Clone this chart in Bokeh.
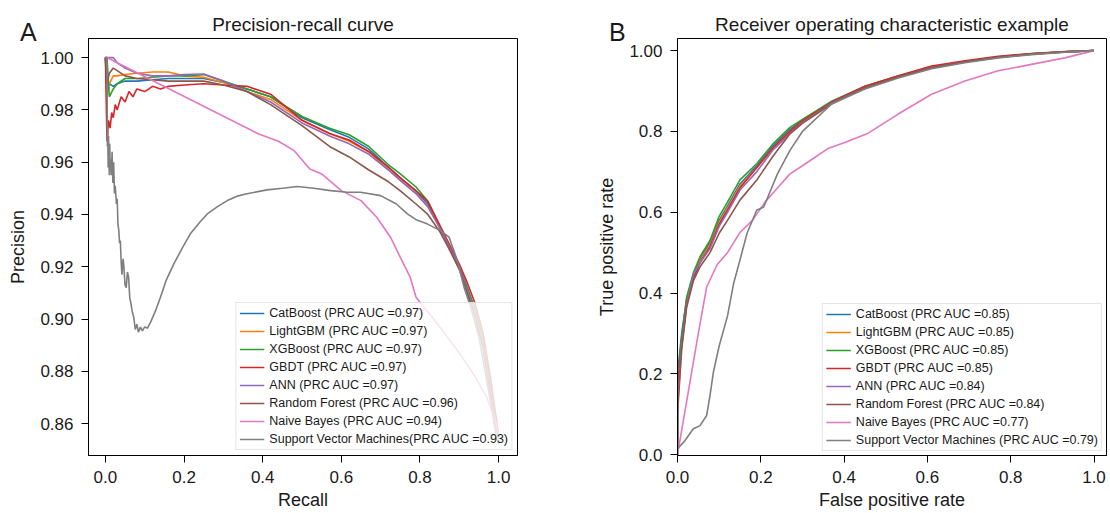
from bokeh.plotting import figure
from bokeh.layouts import row
from bokeh.models import (Range1d, FixedTicker, Legend, LegendItem, Div,
                          NumeralTickFormatter)
from bokeh.embed import file_html
from bokeh.resources import INLINE

FONT = "Liberation Sans"
TXT = "#1a1a1a"

models = ["CatBoost", "LightGBM", "XGBoost", "GBDT", "ANN", "Random Forest",
          "Naive Bayes", "Support Vector Machines"]
colors = ["#1f77b4", "#ff7f0e", "#2ca02c", "#d62728", "#9467bd", "#8c564b",
          "#e377c2", "#7f7f7f"]
pr_auc = ["0.97", "0.97", "0.97", "0.97", "0.97", "0.96", "0.94", "0.93"]
roc_auc = ["0.85", "0.85", "0.85", "0.85", "0.84", "0.84", "0.77", "0.79"]

# ---------------- Precision-recall data ----------------
pr_recall_grid = [0, 0.004, 0.01, 0.02, 0.03, 0.05, 0.08, 0.12, 0.16, 0.2, 0.25, 0.3,
                  0.36, 0.42, 0.5, 0.57, 0.62, 0.67, 0.72, 0.75, 0.79, 0.82, 0.85,
                  0.87, 0.9, 0.92, 0.94, 0.96, 0.98, 0.99, 1.0]
pr_catboost = [1.0, 0.99, 0.99, 0.989, 0.99, 0.991, 0.991, 0.9915, 0.992, 0.992, 0.992,
               0.9905, 0.988, 0.985, 0.977, 0.9725, 0.9695, 0.965, 0.958, 0.954, 0.949,
               0.944, 0.935, 0.929, 0.92, 0.912, 0.903, 0.892, 0.873, 0.862, 0.855]
pr_lightgbm = [1.0, 0.985, 0.99, 0.993, 0.993, 0.9935, 0.994, 0.9945, 0.9945, 0.993,
               0.9925, 0.9905, 0.987, 0.984, 0.976, 0.971, 0.968, 0.964, 0.957, 0.953,
               0.948, 0.943, 0.935, 0.929, 0.919, 0.911, 0.902, 0.891, 0.872, 0.861, 0.855]
pr_xgboost = [1.0, 1.0, 0.985, 0.988, 0.99, 0.992, 0.992, 0.9925, 0.993, 0.993, 0.9935,
              0.991, 0.988, 0.985, 0.9775, 0.973, 0.9705, 0.966, 0.959, 0.9555, 0.9505,
              0.945, 0.9355, 0.929, 0.92, 0.912, 0.904, 0.893, 0.874, 0.863, 0.855]
pr_ann = [1.0, 1.0, 1.0, 1.0, 0.998, 0.996, 0.994, 0.993, 0.993, 0.9935, 0.9937, 0.991,
          0.987, 0.983, 0.975, 0.97, 0.967, 0.963, 0.957, 0.953, 0.948, 0.943, 0.935,
          0.929, 0.92, 0.911, 0.902, 0.89, 0.872, 0.86, 0.854]
pr_rf = [1.0, 0.99, 0.994, 0.996, 0.995, 0.993, 0.992, 0.9915, 0.991, 0.991, 0.991,
         0.9895, 0.987, 0.982, 0.974, 0.966, 0.962, 0.957, 0.9525, 0.949, 0.944, 0.94,
         0.9335, 0.928, 0.919, 0.91, 0.901, 0.889, 0.87, 0.859, 0.852]

# GBDT has a jagged start, so it gets its own recall points
pr_gbdt_recall = [0, 0.004, 0.008, 0.012, 0.016, 0.02, 0.025, 0.03, 0.04, 0.05, 0.06,
                  0.07, 0.08, 0.1, 0.12, 0.14, 0.16, 0.2, 0.25, 0.3, 0.36, 0.42, 0.5,
                  0.57, 0.62, 0.67, 0.72, 0.75, 0.79, 0.82, 0.85, 0.87, 0.9, 0.92, 0.94,
                  0.96, 0.98, 0.99, 1.0]
pr_gbdt = [1.0, 0.968, 0.976, 0.973, 0.979, 0.977, 0.982, 0.98, 0.985, 0.983, 0.987,
           0.985, 0.988, 0.987, 0.989, 0.988, 0.989, 0.9895, 0.99, 0.9895, 0.989, 0.986,
           0.976, 0.971, 0.9685, 0.964, 0.958, 0.954, 0.949, 0.945, 0.936, 0.93, 0.921,
           0.914, 0.906, 0.895, 0.877, 0.866, 0.856]

pr_nb_recall = [0, 0.004, 0.03, 0.39, 0.44, 0.48, 0.52, 0.55, 0.6, 0.65, 0.69, 0.725,
                0.75, 0.775, 0.79, 0.81, 0.83, 0.86, 0.9, 0.94, 0.97, 0.99, 1.0]
pr_nb_precision = [1.0, 1.0, 0.998, 0.9708, 0.968, 0.9644, 0.9574, 0.9555, 0.9491,
                   0.9453, 0.9389, 0.9313, 0.9236, 0.916, 0.9083, 0.9045, 0.901, 0.895,
                   0.887, 0.878, 0.87, 0.862, 0.856]

pr_svm_recall = [0, 0.004, 0.005, 0.006, 0.007, 0.008, 0.009, 0.01, 0.011, 0.012, 0.013,
                 0.015, 0.017, 0.019, 0.021, 0.023, 0.025, 0.028, 0.03, 0.032, 0.034,
                 0.036, 0.038, 0.04, 0.042, 0.045, 0.047, 0.05, 0.053, 0.056, 0.059,
                 0.062, 0.065, 0.068, 0.072, 0.076, 0.08, 0.084, 0.089, 0.094, 0.1,
                 0.107, 0.115, 0.127, 0.14, 0.155, 0.174, 0.195, 0.216, 0.24, 0.259,
                 0.285, 0.31, 0.335, 0.36, 0.411, 0.45, 0.488, 0.53, 0.573, 0.615,
                 0.649, 0.7, 0.74, 0.768, 0.79, 0.818, 0.852, 0.874, 0.895, 0.912,
                 0.929, 0.95, 0.97, 0.99, 1.0]
pr_svm_precision = [1.0, 1.0, 0.966, 0.972, 0.958, 0.97, 0.962, 0.955, 0.967, 0.958, 0.961,
                    0.955, 0.964, 0.952, 0.96, 0.948, 0.951, 0.944, 0.946, 0.936, 0.934,
                    0.929, 0.93, 0.922, 0.917, 0.923, 0.92, 0.913, 0.912, 0.918, 0.916,
                    0.908, 0.906, 0.903, 0.9007, 0.896, 0.898, 0.895, 0.8969, 0.8955,
                    0.897, 0.8965, 0.8988, 0.903, 0.9083, 0.915, 0.9211, 0.927, 0.9326,
                    0.937, 0.9402, 0.943, 0.9453, 0.947, 0.9479, 0.9494, 0.95, 0.9507,
                    0.95, 0.9491, 0.9485, 0.9485, 0.9472, 0.944, 0.9402, 0.938, 0.9364,
                    0.9338, 0.9313, 0.9224, 0.9122, 0.9045, 0.893, 0.876, 0.86, 0.852]

# ---------------- ROC data ----------------
roc_fpr_grid = [0, 0, 0.01, 0.022, 0.038, 0.054, 0.078, 0.10, 0.12, 0.15, 0.19, 0.23,
                0.27, 0.30, 0.37, 0.45, 0.53, 0.61, 0.69, 0.77, 0.85, 0.93, 1.0]
roc_catboost = [0, 0.2, 0.3, 0.385, 0.445, 0.485, 0.525, 0.58, 0.615, 0.67, 0.715, 0.765,
                0.805, 0.828, 0.873, 0.91, 0.936, 0.958, 0.972, 0.983, 0.991, 0.997, 1.0]
roc_lightgbm = [0, 0.15, 0.28, 0.38, 0.44, 0.48, 0.52, 0.575, 0.61, 0.665, 0.71, 0.76,
                0.8, 0.826, 0.872, 0.91, 0.936, 0.958, 0.972, 0.984, 0.992, 0.997, 1.0]
roc_xgboost = [0, 0.17, 0.29, 0.39, 0.45, 0.49, 0.53, 0.59, 0.625, 0.68, 0.72, 0.77,
               0.81, 0.83, 0.875, 0.912, 0.937, 0.96, 0.973, 0.984, 0.992, 0.997, 1.0]
roc_gbdt = [0, 0.17, 0.27, 0.375, 0.435, 0.475, 0.515, 0.57, 0.605, 0.66, 0.71, 0.76,
            0.8, 0.826, 0.872, 0.912, 0.938, 0.962, 0.975, 0.986, 0.993, 0.998, 1.0]
roc_ann = [0, 0.12, 0.27, 0.37, 0.445, 0.475, 0.51, 0.565, 0.6, 0.655, 0.7, 0.755,
           0.795, 0.822, 0.87, 0.908, 0.934, 0.958, 0.972, 0.983, 0.991, 0.997, 1.0]
roc_rf = [0, 0.1, 0.26, 0.365, 0.43, 0.465, 0.5, 0.548, 0.58, 0.63, 0.679, 0.74,
          0.794, 0.82, 0.868, 0.908, 0.935, 0.958, 0.972, 0.984, 0.992, 0.997, 1.0]

roc_nb_fpr = [0, 0.005, 0.03, 0.05, 0.07, 0.095, 0.12, 0.15, 0.18, 0.21, 0.24, 0.27,
              0.3, 0.36, 0.4, 0.455, 0.53, 0.61, 0.69, 0.77, 0.85, 0.93, 1.0]
roc_nb_tpr = [0, 0.03, 0.18, 0.3, 0.415, 0.47, 0.5, 0.55, 0.58, 0.625, 0.66, 0.695,
              0.715, 0.757, 0.772, 0.794, 0.843, 0.892, 0.925, 0.95, 0.966, 0.982, 1.0]

roc_svm_fpr = [0, 0.015, 0.038, 0.054, 0.07, 0.078, 0.086, 0.1, 0.12, 0.135, 0.15, 0.167,
               0.19, 0.207, 0.24, 0.27, 0.3, 0.37, 0.45, 0.53, 0.61, 0.69, 0.77, 0.85,
               0.93, 1.0]
roc_svm_tpr = [0.015, 0.031, 0.064, 0.072, 0.097, 0.146, 0.203, 0.269, 0.343, 0.425,
               0.482, 0.548, 0.605, 0.613, 0.695, 0.753, 0.8, 0.868, 0.905, 0.932, 0.955,
               0.97, 0.982, 0.99, 0.996, 1.0]

pr_series = [(pr_recall_grid, pr_catboost), (pr_recall_grid, pr_lightgbm),
             (pr_recall_grid, pr_xgboost), (pr_gbdt_recall, pr_gbdt),
             (pr_recall_grid, pr_ann), (pr_recall_grid, pr_rf),
             (pr_nb_recall, pr_nb_precision), (pr_svm_recall, pr_svm_precision)]
roc_series = [(roc_fpr_grid, roc_catboost), (roc_fpr_grid, roc_lightgbm),
              (roc_fpr_grid, roc_xgboost), (roc_fpr_grid, roc_gbdt),
              (roc_fpr_grid, roc_ann), (roc_fpr_grid, roc_rf),
              (roc_nb_fpr, roc_nb_tpr), (roc_svm_fpr, roc_svm_tpr)]

pr_labels = [f"{m} (PRC AUC ={a})" for m, a in zip(models[:-1], pr_auc[:-1])]
pr_labels.append(f"{models[-1]}(PRC AUC ={pr_auc[-1]})")
roc_labels = [f"{m} (PRC AUC ={a})" for m, a in zip(models, roc_auc)]


def style(p, xlabel, ylabel, yticks, yfmt, title):
    p.title.text = title
    p.title.text_font = FONT
    p.title.text_font_size = "19px"
    p.title.text_font_style = "normal"
    p.title.text_color = TXT
    p.title.align = "center"
    p.title.standoff = 8
    p.xgrid.grid_line_color = None
    p.ygrid.grid_line_color = None
    p.outline_line_color = "black"
    p.outline_line_width = 1
    p.outline_line_alpha = 1
    p.xaxis.ticker = FixedTicker(ticks=[0.0, 0.2, 0.4, 0.6, 0.8, 1.0])
    p.xaxis.formatter = NumeralTickFormatter(format="0.0")
    p.yaxis.ticker = FixedTicker(ticks=yticks)
    p.yaxis.formatter = NumeralTickFormatter(format=yfmt)
    for ax in (p.xaxis[0], p.yaxis[0]):
        ax.axis_line_color = "black"
        ax.major_tick_line_color = "black"
        ax.major_tick_in = 0
        ax.major_tick_out = 7
        ax.minor_tick_line_color = None
        ax.major_label_text_font = FONT
        ax.major_label_text_font_size = "17px"
        ax.major_label_text_color = TXT
        ax.axis_label_text_font = FONT
        ax.axis_label_text_font_size = "18px"
        ax.axis_label_text_font_style = "normal"
        ax.axis_label_text_color = TXT
    p.xaxis.axis_label = xlabel
    p.yaxis.axis_label = ylabel
    p.xaxis.major_label_standoff = 8
    p.xaxis.axis_label_standoff = 4
    p.yaxis.major_label_standoff = 8
    p.yaxis.axis_label_standoff = 9


def add_curves(p, series, labels, margin):
    items = []
    for (xs, ys), c, lab in zip(series, colors, labels):
        r = p.line(xs, ys, line_color=c, line_width=1.6)
        items.append(LegendItem(label=lab, renderers=[r]))
    leg = Legend(items=items, location="bottom_right", margin=margin, padding=3,
                 spacing=4, label_height=14, glyph_height=14, glyph_width=25,
                 label_standoff=5, label_text_font=FONT, label_text_font_size="12.5px",
                 label_text_color=TXT, border_line_color="#cccccc",
                 border_line_width=1, background_fill_color="white",
                 background_fill_alpha=0.8)
    p.add_layout(leg)


def panel_letter(letter, left, top):
    return Div(text=letter, styles={"position": "absolute", "left": f"{left}px",
                                    "top": f"{top}px", "font-family": FONT,
                                    "font-size": "25px", "color": TXT,
                                    "line-height": "1", "z-index": "10"})


# ---------------- Panel A ----------------
pA = figure(width=570, height=513, x_range=Range1d(-0.043, 1.048),
            y_range=Range1d(0.8478, 1.0073), output_backend="svg",
            toolbar_location=None, min_border_left=88, min_border_right=53,
            min_border_top=38, min_border_bottom=58)
style(pA, "Recall", "Precision",
      [0.86, 0.88, 0.90, 0.92, 0.94, 0.96, 0.98, 1.00], "0.00", "Precision-recall curve")
add_curves(pA, pr_series, pr_labels, 5)

# ---------------- Panel B ----------------
pB = figure(width=538, height=513, x_range=Range1d(0.0, 1.03),
            y_range=Range1d(-0.002, 1.03), output_backend="svg",
            toolbar_location=None, min_border_left=107, min_border_right=2,
            min_border_top=38, min_border_bottom=58)
style(pB, "False positive rate", "True positive rate",
      [0.0, 0.2, 0.4, 0.6, 0.8, 1.0], "0.0", "Receiver operating characteristic example")
pB.yaxis[0].major_label_overrides = {1.0: "1.00"}
add_curves(pB, roc_series, roc_labels, 4)

divA = panel_letter("A", 15, 15)
divB = panel_letter("B", 604, 15)

layout = row(pA, pB, divA, divB)
open("out.html", "w").write(file_html(layout, INLINE))
